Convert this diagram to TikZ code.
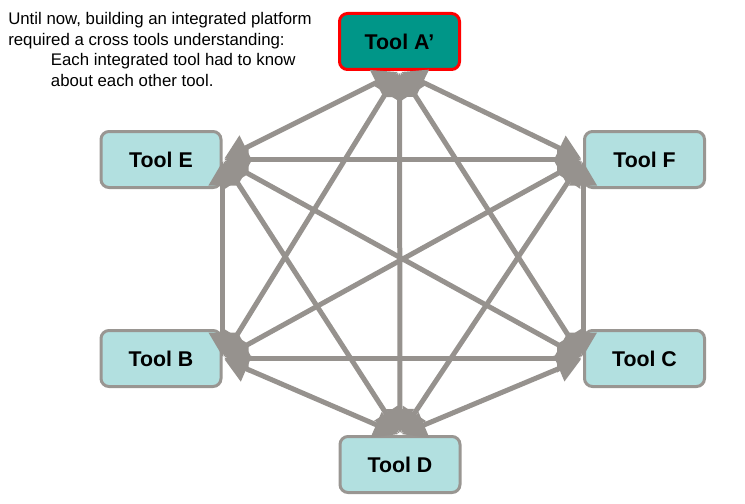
\documentclass[tikz,border=0pt]{standalone}
\usepackage{fontspec}
\setmainfont{Liberation Sans}
\setsansfont{Liberation Sans}
\usepackage{xcolor}
\definecolor{toolcyan}{RGB}{178,224,224}
\definecolor{toolteal}{RGB}{0,150,136}
\definecolor{toolgray}{RGB}{153,150,146}
\definecolor{linkgray}{RGB}{150,146,142}
\usepackage{tikz}
\usetikzlibrary{positioning,arrows.meta}

\begin{document}
\begin{tikzpicture}[x=0.75pt,y=-0.75pt,
    tool/.style={draw=toolgray,line width=2.25pt,fill=toolcyan,rounded corners=6pt,
                 minimum width=90pt,minimum height=42pt,inner sep=0pt,
                 font=\fontsize{16}{19}\selectfont\bfseries},
    link/.style={draw=linkgray,line width=3.75pt,shorten >=1.5pt,shorten <=1.5pt,
                 {Triangle[length=18pt,width=20pt]}-{Triangle[length=18pt,width=20pt]}}]
  \useasboundingbox (0,0) rectangle (745,503);
  \node[anchor=north west,align=left,inner sep=0pt,font=\fontsize{12.6}{15.5}\selectfont] (note) at (8,12)
    {Until now, building an integrated platform\\
     required a cross tools understanding:\\
     \hspace*{32pt}Each integrated tool had to know\\
     \hspace*{32pt}about each other tool.};
  \node[tool,draw=red,fill=toolteal] (A) at (399.5,41.5) {Tool A'};
  \node[tool] (E) at (161,159.5) {Tool E};
  \node[tool] (F) at (644.5,159.5) {Tool F};
  \node[tool] (B) at (161,358.5) {Tool B};
  \node[tool] (C) at (644.5,358.5) {Tool C};
  \node[tool] (D) at (400,464.5) {Tool D};
  % every tool linked to every other tool
  \foreach \u/\v in {A.south/E.east,A.south/F.west,A.south/B.east,A.south/C.west,A.south/D.north,
                     E.east/F.west,E.east/B.east,E.east/C.west,E.east/D.north,
                     F.west/B.east,F.west/C.west,F.west/D.north,
                     B.east/C.west,B.east/D.north,C.west/D.north}
    \draw[link] (\u) -- (\v);
\end{tikzpicture}
\end{document}
